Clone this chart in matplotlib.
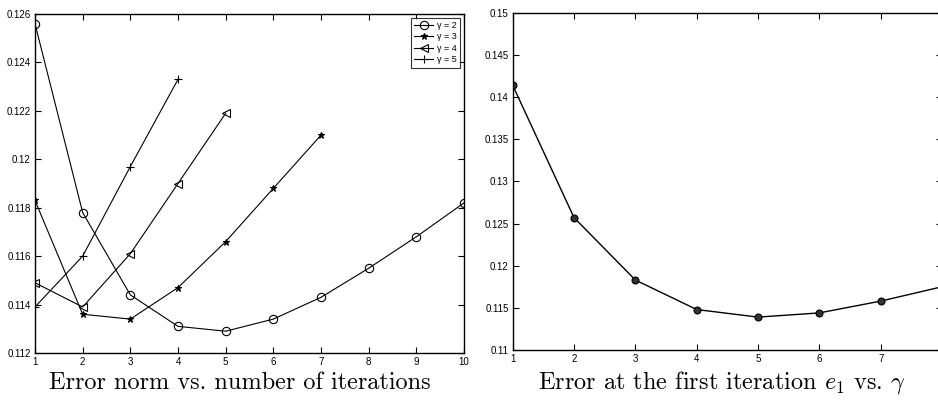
import numpy as np
import matplotlib
matplotlib.use('Agg')
import matplotlib.pyplot as plt

# ── data ──────────────────────────────────────────────────────────────────────

iters = [1, 2, 3, 4, 5, 6, 7, 8, 9, 10]
err_g2 = [0.1256, 0.1178, 0.1144, 0.1131, 0.1129, 0.1134, 0.1143, 0.1155, 0.1168, 0.1182]
err_g3 = [0.1183, 0.1136, 0.1134, 0.1147, 0.1166, 0.1188, 0.1210]
err_g4 = [0.1149, 0.1139, 0.1161, 0.1190, 0.1219]
err_g5 = [0.1139, 0.1160, 0.1197, 0.1233]
gamma_labels = ['γ = 2', 'γ = 3', 'γ = 4', 'γ = 5']

gammas = [1, 2, 3, 4, 5, 6, 7, 8]
gamma_ticklabels = ['1', '2', '3', '4', '5', '6', '7', '']  # "8" falls off the edge
e1 = [0.1414, 0.1257, 0.1183, 0.1148, 0.1139, 0.1144, 0.1158, 0.1175]

left_yticks = [0.112, 0.114, 0.116, 0.118, 0.12, 0.122, 0.124, 0.126]
left_ylabels = ['0.112', '0.114', '0.116', '0.118', '0.12', '0.122', '0.124', '0.126']
right_yticks = [0.11, 0.115, 0.12, 0.125, 0.13, 0.135, 0.14, 0.145, 0.15]
right_ylabels = ['0.11', '0.115', '0.12', '0.125', '0.13', '0.135', '0.14', '0.145', '0.15']

plt.rcParams['font.family'] = ['Liberation Sans', 'DejaVu Sans']
plt.rcParams['mathtext.fontset'] = 'cm'

fig = plt.figure(figsize=(9.38, 4.0), dpi=100)


def style_axes(ax):
    ax.tick_params(direction='in', top=True, right=True, length=4, width=0.8,
                   labelsize=7, pad=3)
    for sp in ax.spines.values():
        sp.set_linewidth(1.0)


# ── left: error norm vs iterations ───────────────────────────────────────────
ax = fig.add_axes([0.0373, 0.1175, 0.4574, 0.8475])
series = [err_g2, err_g3, err_g4, err_g5]
markers = ['o', '*', '<', '+']
msizes = [6, 4.5, 6, 6]
for vals, mk, ms, lab in zip(series, markers, msizes, gamma_labels):
    ax.plot(iters[:len(vals)], vals, color='black', lw=0.8, marker=mk,
            ms=ms, mfc='none' if mk in ('o', '<') else 'black',
            mec='black', mew=0.8, label=lab)
ax.set_xlim(1, 10)
ax.set_ylim(0.112, 0.126)
ax.set_xticks(iters)
ax.set_yticks(left_yticks)
ax.set_yticklabels(left_ylabels)
style_axes(ax)
leg = ax.legend(loc='upper right', fontsize=6.5, frameon=True, fancybox=False,
                edgecolor='black', borderaxespad=0.4, handlelength=2.0,
                labelspacing=0.25, borderpad=0.4, handletextpad=0.5)
leg.get_frame().set_linewidth(0.8)

fig.text(0.256, 0.043, 'Error norm vs. number of iterations', ha='center',
         va='center', fontsize=17.5, family='cmr10')

# ── right: e1 vs gamma (axes runs past the right edge, as in the reference) ──
ax2 = fig.add_axes([0.5466, 0.125, 0.4577, 0.843])
ax2.plot(gammas, e1, color='black', lw=1.0, marker='o', ms=5,
         mfc='#333333', mec='black', mew=0.8)
ax2.set_xlim(1, 8)
ax2.set_ylim(0.11, 0.15)
ax2.set_xticks(gammas)
ax2.set_xticklabels(gamma_ticklabels)
ax2.set_yticks(right_yticks)
ax2.set_yticklabels(right_ylabels)
style_axes(ax2)

fig.text(0.770, 0.043, r'Error at the first iteration $e_1$ vs. $\gamma$',
         ha='center', va='center', fontsize=17.5, family='cmr10')

fig.savefig('out.png', dpi=100)
